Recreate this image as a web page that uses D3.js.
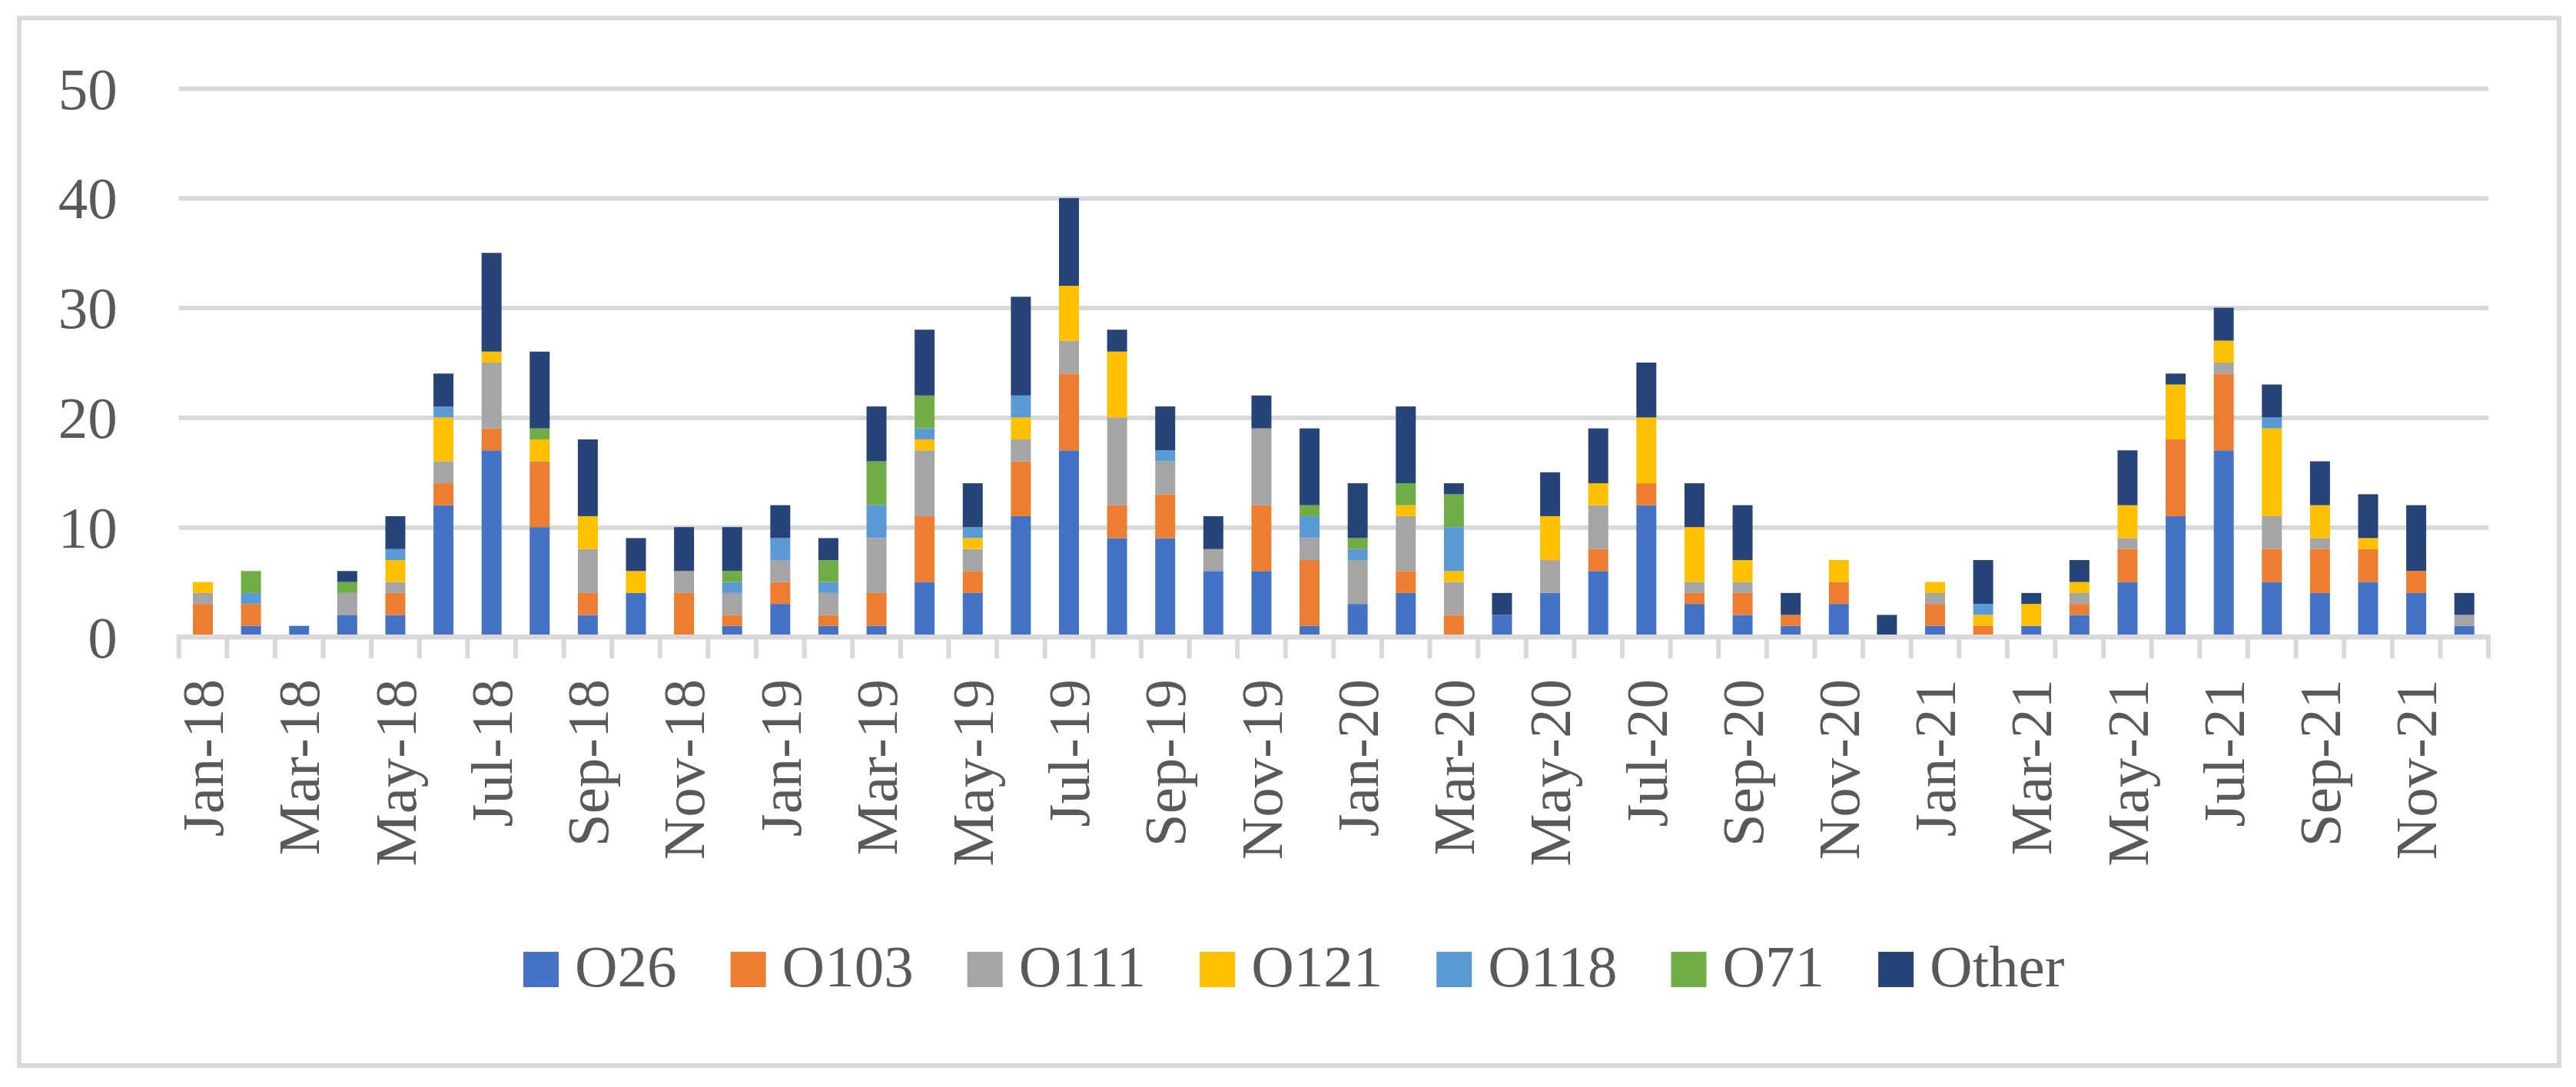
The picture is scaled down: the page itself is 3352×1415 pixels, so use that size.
<!DOCTYPE html>
<html>
<head>
<meta charset="utf-8">
<script src="https://cdn.jsdelivr.net/npm/d3@7"></script>
<style>
  body { margin: 0; background: #fff; }
  svg text { font-family: "Liberation Serif", serif; fill: #595959; }
</style>
</head>
<body>
<svg id="chart"></svg>
<script>
// months Jan-18 .. Dec-21
let months = []
let monNames = ["Jan","Feb","Mar","Apr","May","Jun","Jul","Aug","Sep","Oct","Nov","Dec"]
let years = ["18","19","20","21"]
years.forEach(y => monNames.forEach(m => months.push(m + "-" + y)))

let serotypes = ["O26", "O103", "O111", "O121", "O118", "O71", "Other"]
let colors = ["#4472C4", "#ED7D31", "#A5A5A5", "#FFC000", "#5B9BD5", "#70AD47", "#264478"]

let o26 = [0,1,1,2,2,12,17,10,2,4,0,1,
           3,1,1,5,4,11,17,9,9,6,6,1,
           3,4,0,2,4,6,12,3,2,1,3,0,
           1,0,1,2,5,11,17,5,4,5,4,1]
let o103 = [3,2,0,0,2,2,2,6,2,0,4,1,
            2,1,3,6,2,5,7,3,4,0,6,6,
            0,2,2,0,0,2,2,1,2,1,2,0,
            2,1,0,1,3,7,7,3,4,3,2,0]
let o111 = [1,0,0,2,1,2,6,0,4,0,2,2,
            2,2,5,6,2,2,3,8,3,2,7,2,
            4,5,3,0,3,4,0,1,1,0,0,0,
            1,0,0,1,1,0,1,3,1,0,0,1]
let o121 = [1,0,0,0,2,4,1,2,3,2,0,0,
            0,0,0,1,1,2,5,6,0,0,0,0,
            0,1,1,0,4,2,6,5,2,0,2,0,
            1,1,2,1,3,5,2,8,3,1,0,0]
let o118 = [0,1,0,0,1,1,0,0,0,0,0,1,
            2,1,3,1,1,2,0,0,1,0,0,2,
            1,0,4,0,0,0,0,0,0,0,0,0,
            0,1,0,0,0,0,0,1,0,0,0,0]
let o71 = [0,2,0,1,0,0,0,1,0,0,0,1,
           0,2,4,3,0,0,0,0,0,0,0,1,
           1,2,3,0,0,0,0,0,0,0,0,0,
           0,0,0,0,0,0,0,0,0,0,0,0]
let other = [0,0,0,1,3,3,9,7,7,3,4,4,
             3,2,5,6,4,9,8,2,4,3,3,7,
             5,7,1,2,4,5,5,4,5,2,0,2,
             0,4,1,2,5,1,3,3,4,4,6,2]
let yTicks = [0, 10, 20, 30, 40, 50]

let series = [o26, o103, o111, o121, o118, o71, other]
let rows = months.map((m, i) => {
  let r = {month: m}
  serotypes.forEach((s, k) => r[s] = series[k][i])
  return r
})

let w = 3352
let h = 1415
let plotLeft = 232.7, plotRight = 3238, plotTop = 115, plotBottom = 829
let fontSize = 77

let svg = d3.select("#chart").attr("width", w).attr("height", h)

// outer frame
svg.append("rect")
   .attr("x", 25).attr("y", 23.5)
   .attr("width", 3330 - 25).attr("height", 1387 - 23.5)
   .attr("fill", "none")
   .attr("stroke", "#d9d9d9")
   .attr("stroke-width", 6)

let xScale = d3.scaleBand()
               .domain(months)
               .range([plotLeft, plotRight])
               .paddingInner(0.585)
               .paddingOuter(0.2925)

let yScale = d3.scaleLinear()
               .domain([0, 50])
               .range([plotBottom, plotTop])

// y axis + gridlines
let yAxis = d3.axisLeft(yScale)
              .tickValues(yTicks)
              .tickSize(-(plotRight - plotLeft))
              .tickPadding(80)
let yG = svg.append("g")
            .attr("transform", "translate(" + plotLeft + ",0)")
            .call(yAxis)
yG.select(".domain").remove()
yG.selectAll("line").attr("stroke", "#d9d9d9").attr("stroke-width", 6)
yG.selectAll("text")
  .attr("font-size", fontSize)
  .attr("dy", "0.34em")
  .style("font-family", "Liberation Serif")
  .attr("fill", "#595959")

// stacked bars
let stacked = d3.stack().keys(serotypes)(rows)
svg.append("g")
   .selectAll("g")
   .data(stacked)
   .enter()
   .append("g")
   .attr("fill", (d, i) => colors[i])
   .selectAll("rect")
   .data(d => d)
   .enter()
   .append("rect")
   .attr("x", d => xScale(d.data.month))
   .attr("width", xScale.bandwidth())
   .attr("y", d => yScale(d[1]))
   .attr("height", d => yScale(d[0]) - yScale(d[1]))

// x axis line and tick marks between categories
let step = xScale.step()
let tickXs = d3.range(months.length + 1).map(i => plotLeft + i * step)
svg.append("g")
   .selectAll("line")
   .data(tickXs)
   .enter()
   .append("line")
   .attr("x1", d => d).attr("x2", d => d)
   .attr("y1", plotBottom).attr("y2", plotBottom + 28)
   .attr("stroke", "#d9d9d9")
   .attr("stroke-width", 6)
svg.append("line")
   .attr("x1", plotLeft - 3).attr("x2", plotRight + 3)
   .attr("y1", plotBottom).attr("y2", plotBottom)
   .attr("stroke", "#d9d9d9")
   .attr("stroke-width", 6)

let xAxis = d3.axisBottom(xScale)
              .tickValues(months.filter((m, i) => i % 2 === 0))
              .tickSize(0)
let xG = svg.append("g")
            .attr("transform", "translate(0," + plotBottom + ")")
            .call(xAxis)
xG.select(".domain").remove()
xG.selectAll("text")
  .attr("transform", "rotate(-90)")
  .attr("text-anchor", "end")
  .attr("x", -55)
  .attr("y", 0)
  .attr("dy", "0.34em")
  .attr("font-size", fontSize)
  .style("font-family", "Liberation Serif")
  .attr("fill", "#595959")

// legend
let legend = svg.append("g")
let lx = 681
serotypes.forEach((s, i) => {
  legend.append("rect")
        .attr("x", lx).attr("y", 1239)
        .attr("width", 46).attr("height", 46)
        .attr("fill", colors[i])
  let t = legend.append("text")
                .attr("x", lx + 46 + 21)
                .attr("y", 1284)
                .attr("font-size", fontSize)
                .text(s)
  lx = lx + 46 + 21 + t.node().getComputedTextLength() + 70
})
</script>
</body>
</html>
